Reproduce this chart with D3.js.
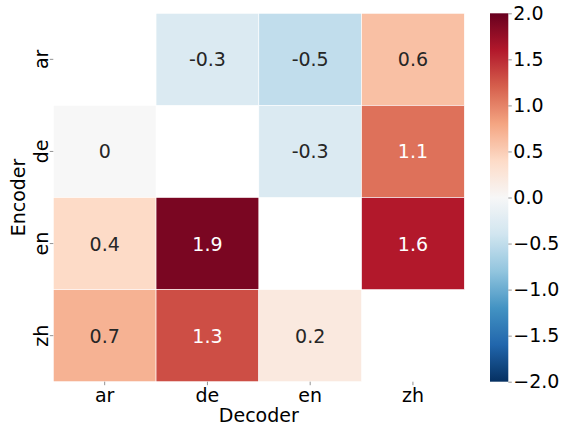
<!DOCTYPE html>
<html>
<head>
<meta charset="utf-8">
<script src="https://cdn.jsdelivr.net/npm/d3@7/dist/d3.min.js"></script>
<style>
  html, body { margin: 0; padding: 0; background: #fff; }
  svg { display: block; font-family: "DejaVu Sans", sans-serif; }
</style>
</head>
<body>
<svg id="chart" width="570" height="428"></svg>
<script>
// Language pairs: rows are encoders, columns are decoders
const decoders = ["ar", "de", "en", "zh"];
const encoders = ["ar", "de", "en", "zh"];
const rowAr = [null, -0.3, -0.5, 0.6];
const rowDe = [0, null, -0.3, 1.1];
const rowEn = [0.4, 1.9, null, 1.6];
const rowZh = [0.7, 1.3, 0.2, null];
const colorbarTicks = [-2.0, -1.5, -1.0, -0.5, 0.0, 0.5, 1.0, 1.5, 2.0];

const rows = [rowAr, rowDe, rowEn, rowZh];
const cells = [];
rows.forEach((r, i) => r.forEach((v, j) => {
  if (v !== null) cells.push({ enc: encoders[i], dec: decoders[j], value: v });
}));

const FONT = 19;

// Diverging red-blue palette (reversed so positive values are red)
const rdbu = ["#053061", "#2166ac", "#4393c3", "#92c5de", "#d1e5f0", "#f7f7f7",
              "#fddbc7", "#f4a582", "#d6604d", "#b2182b", "#67001f"];
const vmin = -2, vmax = 2;
const color = d3.scaleLinear()
  .domain(d3.range(rdbu.length).map(k => vmin + (vmax - vmin) * k / (rdbu.length - 1)))
  .range(rdbu)
  .interpolate(d3.interpolateRgb)
  .clamp(true);

const svg = d3.select("#chart");
const plot = { left: 53.3, top: 13.3, right: 464.3, bottom: 381.7 };

const x = d3.scaleBand().domain(decoders).range([plot.left, plot.right]);
const y = d3.scaleBand().domain(encoders).range([plot.top, plot.bottom]);

// Cells
svg.append("g").selectAll("rect")
  .data(cells)
  .join("rect")
  .attr("x", d => x(d.dec))
  .attr("y", d => y(d.enc))
  .attr("width", x.bandwidth())
  .attr("height", y.bandwidth())
  .attr("fill", d => color(d.value))
  .attr("stroke", "#fff")
  .attr("stroke-width", 0.6);

// Relative luminance decides the label colour
function luminance(c) {
  const rgb = d3.rgb(c);
  const f = v => { v /= 255; return v <= 0.03928 ? v / 12.92 : Math.pow((v + 0.055) / 1.055, 2.4); };
  return 0.2126 * f(rgb.r) + 0.7152 * f(rgb.g) + 0.0722 * f(rgb.b);
}

svg.append("g").selectAll("text")
  .data(cells)
  .join("text")
  .attr("x", d => x(d.dec) + x.bandwidth() / 2)
  .attr("y", d => y(d.enc) + y.bandwidth() / 2)
  .attr("text-anchor", "middle")
  .attr("dominant-baseline", "central")
  .attr("font-size", FONT)
  .attr("fill", d => luminance(color(d.value)) > 0.408 ? "#262626" : "#ffffff")
  .text(d => String(d.value));

// Axes
const xAxis = svg.append("g")
  .attr("transform", `translate(0,${plot.bottom})`)
  .call(d3.axisBottom(x).tickSize(3.5).tickPadding(3));
xAxis.select(".domain").remove();
xAxis.selectAll(".tick line").attr("stroke", "#777").attr("stroke-width", 0.8);
xAxis.selectAll(".tick text").attr("font-size", FONT).attr("fill", "#000")
  .attr("font-family", "DejaVu Sans");

const yAxis = svg.append("g")
  .attr("transform", `translate(${plot.left},0)`)
  .call(d3.axisLeft(y).tickSize(3.5).tickPadding(0));
yAxis.select(".domain").remove();
yAxis.selectAll(".tick line").attr("stroke", "#777").attr("stroke-width", 0.8);
yAxis.selectAll(".tick text")
  .attr("font-size", FONT).attr("fill", "#000").attr("font-family", "DejaVu Sans")
  .attr("x", null).attr("dy", null)
  .attr("text-anchor", "middle")
  .attr("transform", "translate(-5.5,0) rotate(-90)");

svg.append("text")
  .attr("x", (plot.left + plot.right) / 2)
  .attr("y", 422)
  .attr("text-anchor", "middle")
  .attr("font-size", FONT)
  .text("Decoder");

svg.append("text")
  .attr("transform", `translate(25,${(plot.top + plot.bottom) / 2}) rotate(-90)`)
  .attr("text-anchor", "middle")
  .attr("font-size", FONT)
  .text("Encoder");

// Colour bar
const cb = { x: 490, w: 18.3, top: plot.top, bottom: plot.bottom };
const cy = d3.scaleLinear().domain([vmin, vmax]).range([cb.bottom, cb.top]);
const defs = svg.append("defs");
const grad = defs.append("linearGradient")
  .attr("id", "cbgrad").attr("x1", 0).attr("y1", 1).attr("x2", 0).attr("y2", 0);
d3.range(0, 1.0001, 0.02).forEach(t => {
  grad.append("stop")
    .attr("offset", t)
    .attr("stop-color", color(vmin + t * (vmax - vmin)));
});
svg.append("rect")
  .attr("x", cb.x).attr("y", cb.top)
  .attr("width", cb.w).attr("height", cb.bottom - cb.top)
  .attr("fill", "url(#cbgrad)");

const cAxis = svg.append("g")
  .attr("transform", `translate(${cb.x + cb.w},0)`)
  .call(d3.axisRight(cy).tickValues(colorbarTicks).tickSize(3.5).tickPadding(1.5)
    .tickFormat(d => d3.format(".1f")(d).replace("-", "\u2212")));
cAxis.select(".domain").remove();
cAxis.selectAll(".tick line").attr("stroke", "#777").attr("stroke-width", 0.8);
cAxis.selectAll(".tick text").attr("font-size", FONT).attr("fill", "#000")
  .attr("font-family", "DejaVu Sans");
</script>
</body>
</html>
